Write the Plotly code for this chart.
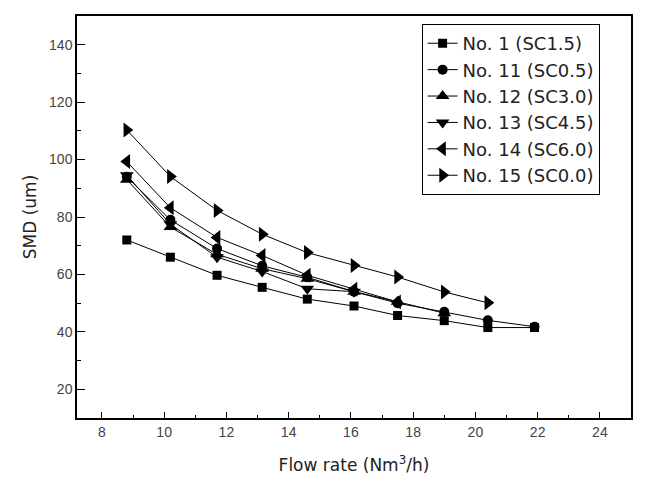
import plotly.graph_objects as go

x_flow = [8.8, 10.2, 11.7, 13.15, 14.6, 16.1, 17.5, 19.0, 20.4, 21.9]

names = ["No. 1 (SC1.5)", "No. 11 (SC0.5)", "No. 12 (SC3.0)",
         "No. 13 (SC4.5)", "No. 14 (SC6.0)", "No. 15 (SC0.0)"]
smd_no1 = [72.0, 66.0, 59.7, 55.5, 51.4, 49.0, 45.7, 43.9, 41.5, 41.5]
smd_no11 = [94.0, 79.0, 69.0, 63.0, 59.0, 54.0, 50.0, 47.0, 44.0, 41.8]
smd_no12 = [93.0, 76.5, 67.0, 62.0, 58.5, 54.0, 50.5, 46.5]
smd_no13 = [94.5, 77.5, 66.0, 61.0, 55.0, 54.0]
smd_no14 = [99.3, 83.2, 72.9, 66.6, 59.7, 54.8, 50.4]
smd_no15 = [110.3, 94.1, 82.3, 74.0, 67.6, 63.1, 59.1, 53.9, 50.1]

series = [smd_no1, smd_no11, smd_no12, smd_no13, smd_no14, smd_no15]
symbols = ["square", "circle", "triangle-up", "triangle-down", "triangle-left", "triangle-right"]
sizes = [9, 10, 12, 12, 13, 13]

fig = go.Figure()
for name, ys, sym, sz in zip(names, series, symbols, sizes):
    fig.add_trace(go.Scatter(
        x=x_flow[:len(ys)], y=ys, name=name, mode="lines+markers",
        line=dict(color="black", width=1),
        marker=dict(symbol=sym, size=sz, color="black"),
    ))

tick_font = dict(family="Liberation Sans, Arial", size=14, color="#444")
title_font = dict(family="DejaVu Sans", size=17, color="#222")

fig.update_layout(
    width=642, height=481,
    margin=dict(l=69, r=19, t=6, b=71),
    paper_bgcolor="white", plot_bgcolor="white",
    font=dict(family="Liberation Sans, Arial", color="black"),
    xaxis=dict(range=[7.2, 25], dtick=2, tick0=8,
               showline=True, linecolor="black", linewidth=1.5, mirror=True,
               ticks="inside", ticklen=6, tickwidth=1, tickcolor="black",
               minor=dict(ticks="inside", ticklen=3, dtick=1, tick0=8, tickcolor="black"),
               showgrid=False, zeroline=False, tickfont=tick_font,
               title=dict(text="Flow rate (Nm<sup>3</sup>/h)", font=title_font, standoff=21)),
    yaxis=dict(range=[10, 150], dtick=20, tick0=20,
               showline=True, linecolor="black", linewidth=1.5, mirror=True,
               ticks="inside", ticklen=8, tickwidth=1, tickcolor="black",
               minor=dict(ticks="inside", ticklen=4, dtick=10, tick0=10, tickcolor="black"),
               showgrid=False, zeroline=False, tickfont=tick_font,
               title=dict(text="SMD (um)", font=title_font, standoff=8)),
    legend=dict(x=0.622, y=0.98, xanchor="left", yanchor="top",
                bordercolor="black", borderwidth=1, bgcolor="white",
                font=dict(size=18, family="DejaVu Sans", color="#222"),
                itemwidth=30, tracegroupgap=0),
    showlegend=True,
)

fig.write_html("out.html")
